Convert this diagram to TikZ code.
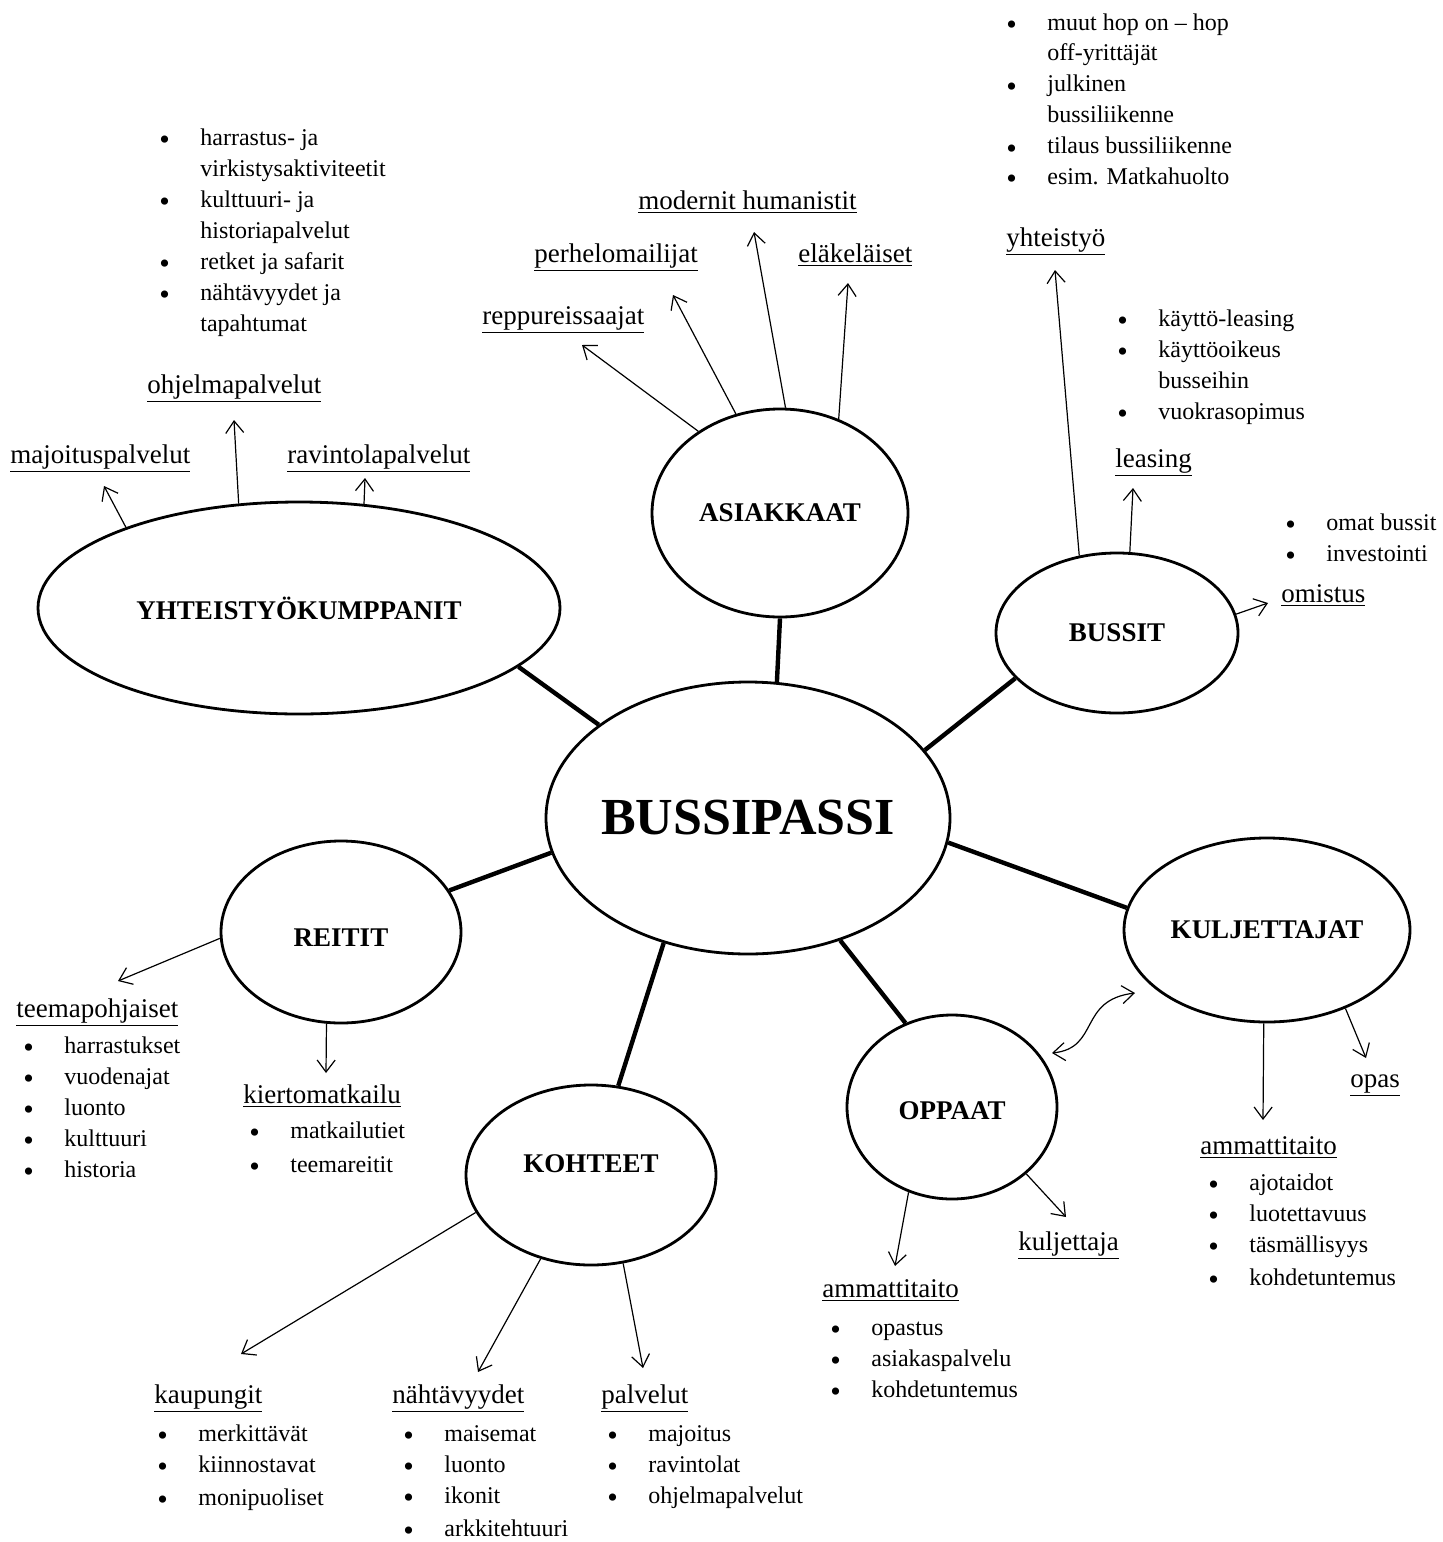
\documentclass[tikz,border=0pt]{standalone}
\usepackage{fontspec}
\setmainfont{Liberation Serif}
\usetikzlibrary{shapes.geometric,arrows.meta}

% bullet list: bullet column + text column
\newenvironment{luettelo}{\begin{tabular}[t]{@{}p{20.5pt}@{}l@{}}}{\end{tabular}}
\newcommand{\kohta}{\raisebox{-2pt}{\fontsize{15}{15}\selectfont\textbullet} &}

\begin{document}
\begin{tikzpicture}[x=0.5pt,y=-0.5pt,
    pallo/.style={ellipse,draw,line width=1.4pt,inner sep=0pt,
        font=\fontsize{13.5}{16}\selectfont\bfseries},
    linkki/.style={line width=2.2pt},
    nuoli/.style={-{Straight Barb[length=6pt,width=9pt]},line width=0.6pt},
    kaksi/.style={{Straight Barb[length=6pt,width=9pt]}-{Straight Barb[length=6pt,width=9pt]},line width=0.6pt},
    otsake/.style={anchor=base west,inner sep=0pt,font=\fontsize{13.5}{16}\selectfont},
    lista/.style={anchor=base west,inner sep=0pt,font=\fontsize{12}{15.5}\selectfont}]

    \useasboundingbox (0,0) rectangle (1442,1542);

    % Main nodes
    \node[pallo,minimum width=202pt,minimum height=136pt,
        font=\fontsize{26}{30}\selectfont\bfseries] (bp) at (748,818) {\makebox[0pt]{BUSSIPASSI}};
    \node[pallo,minimum width=128pt,minimum height=104pt] (as) at (780,513) {\makebox[0pt]{ASIAKKAAT}};
    \node[pallo,minimum width=261pt,minimum height=106pt] (yk) at (299,608) {\makebox[0pt]{YHTEISTYÖKUMPPANIT}};
    \node[pallo,minimum width=121pt,minimum height=80pt] (bs) at (1117,633) {\makebox[0pt]{BUSSIT}};
    \node[pallo,minimum width=143pt,minimum height=92pt] (kj) at (1267,930) {\makebox[0pt]{KULJETTAJAT}};
    \node[pallo,minimum width=120pt,minimum height=91pt] (re) at (341,932) {\makebox[0pt]{\raisebox{-7pt}[0pt][0pt]{REITIT}}};
    \node[pallo,minimum width=105pt,minimum height=92pt] (op) at (952,1107) {\makebox[0pt]{\raisebox{-6pt}[0pt][0pt]{OPPAAT}}};
    \node[pallo,minimum width=125pt,minimum height=90pt] (ko) at (591,1175) {\makebox[0pt]{\raisebox{1.5pt}[0pt][0pt]{KOHTEET}}};

    % Links to the centre
    \draw[linkki] (bp.78) -- (as.-90);
    \draw[linkki] (bp.148) -- (yk.-15);
    \draw[linkki] (bp.21) -- (bs.204);
    \draw[linkki] (bp.-7) -- (kj.171);
    \draw[linkki] (bp.190) -- (re.21);
    \draw[linkki] (bp.-53) -- (op.119);
    \draw[linkki] (bp.-124) -- (ko.73);

    % Sub-headings
    \node[otsake] (majo) at (10,463) {\underline{majoituspalvelut}};
    \node[otsake] (ohje) at (147,393) {\underline{ohjelmapalvelut}};
    \node[otsake] (ravi) at (287,463) {\underline{ravintolapalvelut}};
    \node[otsake] (repp) at (482,324) {\underline{reppureissaajat}};
    \node[otsake] (perh) at (534,262) {\underline{perhelomailijat}};
    \node[otsake] (mode) at (638,209) {\underline{modernit humanistit}};
    \node[otsake] (elak) at (798,262) {\underline{eläkeläiset}};
    \node[otsake] (yhte) at (1006,246) {\underline{yhteistyö}};
    \node[otsake] (leas) at (1115,467) {\underline{leasing}};
    \node[otsake] (omis) at (1281,602) {\underline{omistus}};
    \node[otsake] (teem) at (16,1017) {\underline{teemapohjaiset}};
    \node[otsake] (kier) at (243,1103) {\underline{kiertomatkailu}};
    \node[otsake] (kaup) at (154,1403) {\underline{kaupungit}};
    \node[otsake] (naht) at (392,1403) {\underline{nähtävyydet}};
    \node[otsake] (palv) at (601,1403) {\underline{palvelut}};
    \node[otsake] (kulj) at (1018,1250) {\underline{kuljettaja}};
    \node[otsake] (amop) at (822,1297) {\underline{ammattitaito}};
    \node[otsake] (opas) at (1350,1087) {\underline{opas}};
    \node[otsake] (amkj) at (1200,1154) {\underline{ammattitaito}};

    % Bullet lists
    \node[lista] (l-ohje) at (159,145) {\begin{luettelo}
        \kohta harrastus- ja\\ & virkistysaktiviteetit\\
        \kohta kulttuuri- ja\\ & historiapalvelut\\
        \kohta retket ja safarit\\
        \kohta nähtävyydet ja\\ & tapahtumat\end{luettelo}};
    \node[lista] (l-yhte) at (1006,30) {\begin{luettelo}
        \kohta muut hop on – hop\\ & off-yrittäjät\\
        \kohta julkinen\\ & bussiliikenne\\
        \kohta tilaus bussiliikenne\\
        \kohta esim. Matkahuolto\end{luettelo}};
    \node[lista] (l-leas) at (1117,326) {\begin{luettelo}
        \kohta käyttö-leasing\\
        \kohta käyttöoikeus\\ & busseihin\\
        \kohta vuokrasopimus\end{luettelo}};
    \node[lista] (l-omis) at (1285,530) {\begin{luettelo}
        \kohta omat bussit\\
        \kohta investointi\end{luettelo}};
    \node[lista] (l-teem) at (23,1053) {\begin{luettelo}
        \kohta harrastukset\\
        \kohta vuodenajat\\
        \kohta luonto\\
        \kohta kulttuuri\\
        \kohta historia\end{luettelo}};
    \node[lista] (l-kier) at (249,1138) {\begin{luettelo}
        \kohta matkailutiet\\[1.5pt]
        \kohta teemareitit\end{luettelo}};
    \node[lista] (l-kaup) at (157,1441) {\begin{luettelo}
        \kohta merkittävät\\
        \kohta kiinnostavat\\[1pt]
        \kohta monipuoliset\end{luettelo}};
    \node[lista] (l-naht) at (403,1441) {\begin{luettelo}
        \kohta maisemat\\
        \kohta luonto\\
        \kohta ikonit\\[1pt]
        \kohta arkkitehtuuri\end{luettelo}};
    \node[lista] (l-palv) at (607,1441) {\begin{luettelo}
        \kohta majoitus\\
        \kohta ravintolat\\
        \kohta ohjelmapalvelut\end{luettelo}};
    \node[lista] (l-amop) at (830,1335) {\begin{luettelo}
        \kohta opastus\\
        \kohta asiakaspalvelu\\
        \kohta kohdetuntemus\end{luettelo}};
    \node[lista] (l-amkj) at (1208,1190) {\begin{luettelo}
        \kohta ajotaidot\\
        \kohta luotettavuus\\
        \kohta täsmällisyys\\[1pt]
        \kohta kohdetuntemus\end{luettelo}};

    % Arrow tips
    \coordinate (t-majo) at (104,486);
    \coordinate (t-ohje) at (234,420);
    \coordinate (t-ravi) at (365,478);
    \coordinate (t-repp) at (582,345);
    \coordinate (t-perh) at (673,295);
    \coordinate (t-mode) at (754,232);
    \coordinate (t-elak) at (848,283);
    \coordinate (t-yhte) at (1055,270);
    \coordinate (t-leas) at (1133,488);
    \coordinate (t-omis) at (1268,603);
    \coordinate (t-teem) at (118,981);
    \coordinate (t-kier) at (326,1073);
    \coordinate (t-kaup) at (241,1354);
    \coordinate (t-naht) at (478,1372);
    \coordinate (t-palv) at (643,1368);
    \coordinate (t-amop) at (895,1266);
    \coordinate (t-kulj) at (1066,1217);
    \coordinate (t-amkj) at (1263,1120);
    \coordinate (t-opas) at (1366,1058);
    \coordinate (w-op) at (1052,1053);
    \coordinate (w-kj) at (1135,993);

    % Arrows
    \draw[nuoli] (yk.155.5) -- (t-majo);
    \draw[nuoli] (yk.120.6) -- (t-ohje);
    \draw[nuoli] (yk.58.5) -- (t-ravi);
    \draw[nuoli] (as.135) -- (t-repp);
    \draw[nuoli] (as.114) -- (t-perh);
    \draw[nuoli] (as.87.5) -- (t-mode);
    \draw[nuoli] (as.58) -- (t-elak);
    \draw[nuoli] (bs.116) -- (t-yhte);
    \draw[nuoli] (bs.81.5) -- (t-leas);
    \draw[nuoli] (bs.9.5) -- (t-omis);
    \draw[nuoli] (re.183) -- (t-teem);
    \draw[nuoli] (re.-99.5) -- (t-kier);
    \draw[nuoli] (ko.198.6) -- (t-kaup);
    \draw[nuoli] (ko.-121.6) -- (t-naht);
    \draw[nuoli] (ko.-70) -- (t-palv);
    \draw[nuoli] (op.-117) -- (t-amop);
    \draw[nuoli] (op.-42) -- (t-kulj);
    \draw[nuoli] (kj.-92.4) -- (t-amkj);
    \draw[nuoli] (kj.-45.4) -- (t-opas);
    \draw[kaksi] (w-op) .. controls (1100,1048) and (1078,1000) .. (w-kj);
\end{tikzpicture}
\end{document}
